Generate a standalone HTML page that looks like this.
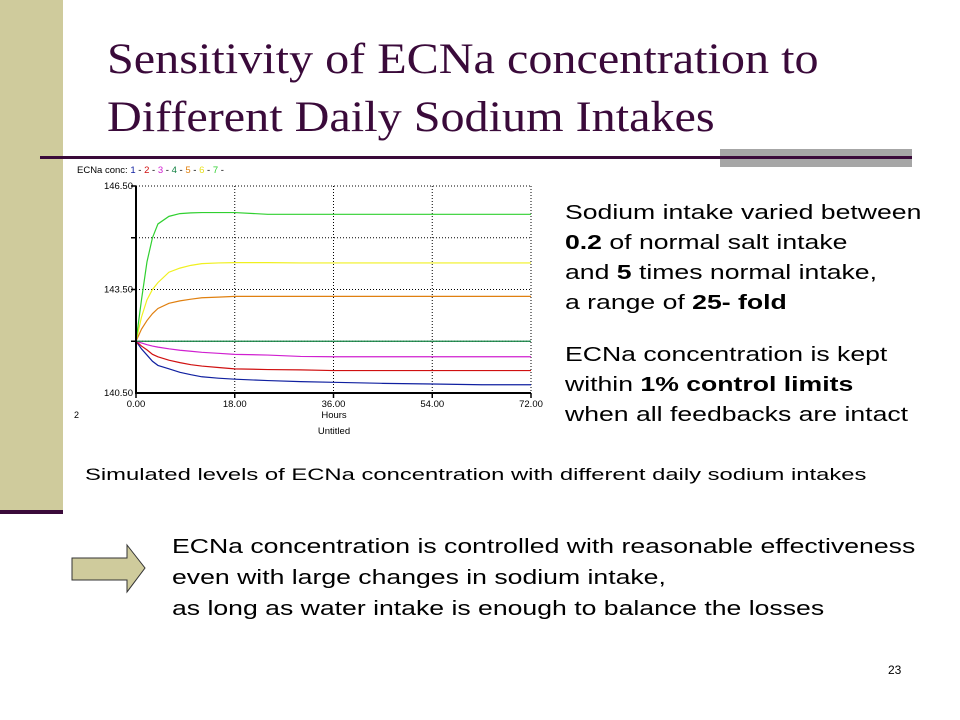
<!DOCTYPE html>
<html><head><meta charset="utf-8"><style>
body{margin:0;width:960px;height:720px;background:#fff;position:relative;overflow:hidden;font-family:"Liberation Sans",Arial,sans-serif}
.abs{position:absolute;white-space:nowrap}
.t{font-family:"Liberation Serif",serif;font-size:43px;color:#3a0a3a;left:107px;transform:scaleX(1.12);transform-origin:0 0}
.r{font-size:20px;color:#000;line-height:30px;transform:scaleX(1.33);transform-origin:0 0}
</style></head><body>
<div class="abs" style="left:0;top:0;width:63px;height:511px;background:#cfcb9c"></div>
<div class="abs" style="left:0;top:510px;width:63px;height:4px;background:#3a0a3a"></div>
<div class="abs t" style="top:35px">Sensitivity of ECNa concentration to</div>
<div class="abs t" style="top:93px">Different Daily Sodium Intakes</div>
<div class="abs" style="left:720px;top:149px;width:192px;height:18px;background:#a6a6a6"></div>
<div class="abs" style="left:40px;top:156px;width:872px;height:3px;background:#3a0a3a"></div>

<svg class="abs" style="left:0;top:0" width="960" height="720" id="chart" font-family="Liberation Sans, Arial, sans-serif">
<text x="77" y="173" font-size="9.5">ECNa conc: <tspan fill="#1020a0">1</tspan> - <tspan fill="#d01010">2</tspan> - <tspan fill="#d020d0">3</tspan> - <tspan fill="#108040">4</tspan> - <tspan fill="#e08010">5</tspan> - <tspan fill="#e8e020">6</tspan> - <tspan fill="#30d030">7</tspan> -</text>
<text x="74" y="418" font-size="9">2</text>
<text x="334" y="418" font-size="9.5" text-anchor="middle">Hours</text>
<text x="334" y="434" font-size="9.5" text-anchor="middle">Untitled</text>
<g id="g"></g>
</svg>

<div class="abs r" style="left:565px;top:198px">Sodium intake varied between<br><b>0.2</b> of normal salt intake<br>and <b>5</b> times normal intake,<br>a range of <b>25- fold</b></div>
<div class="abs r" style="left:565px;top:340px">ECNa concentration is kept<br>within <b>1% control limits</b><br>when all feedbacks are intact</div>
<div class="abs" style="left:85px;top:465px;font-size:17px;transform:scaleX(1.4);transform-origin:0 0">Simulated levels of ECNa concentration with different daily sodium intakes</div>
<svg class="abs" style="left:0;top:0" width="160" height="620"><polygon points="72,558 127,558 127,545 145,568 127,592 127,580 72,580" fill="#cfcb9c" stroke="#333" stroke-width="1"/></svg>
<div class="abs r" style="left:172px;top:532px;line-height:31px">ECNa concentration is controlled with reasonable effectiveness<br>even with large changes in sodium intake,<br>as long as water intake is enough to balance the losses</div>
<div class="abs" style="left:888px;top:663px;font-size:12px">23</div>

<script>
const hours=[0,1,2,3,4,6,8,10,12,15,18,24,30,36,45,54,63,72];
const s1=[142,141.78,141.6,141.42,141.3,141.2,141.1,141.03,140.97,140.93,140.9,140.86,140.83,140.81,140.78,140.76,140.74,140.74];
const s2=[142,141.86,141.75,141.62,141.55,141.45,141.38,141.32,141.28,141.24,141.2,141.18,141.17,141.15,141.15,141.15,141.15,141.15];
const s3=[142,141.95,141.9,141.86,141.83,141.78,141.74,141.71,141.68,141.65,141.62,141.6,141.56,141.55,141.55,141.55,141.55,141.55];
const s4=[142,142,142,142,142,142,142,142,142,142,142,142,142,142,142,142,142,142];
const s5=[142,142.35,142.6,142.8,142.95,143.1,143.17,143.22,143.26,143.28,143.3,143.3,143.3,143.3,143.3,143.3,143.3,143.3];
const s6=[142,142.7,143.2,143.5,143.7,144.0,144.12,144.2,144.25,144.27,144.28,144.28,144.27,144.27,144.27,144.27,144.27,144.27];
const s7=[142,143.2,144.3,145.0,145.4,145.62,145.7,145.72,145.73,145.73,145.73,145.68,145.68,145.68,145.68,145.68,145.68,145.68];
const series=[s1,s2,s3,s4,s5,s6,s7];
const colors=["#1020a0","#d01010","#d020d0","#108040","#e08010","#f0f020","#30d030"];
const yTicks=[140.5,143.5,146.5];
const yGrid=[145,143.5,142,146.5];
const xTicks=[0,18,36,54,72];
const X0=136,X1=531,Y0=393,Y1=186;
const xs=v=>X0+(v-0)/72*(X1-X0);
const ys=v=>Y0-(v-140.5)/6*(Y0-Y1);
const g=document.getElementById('g');const NS="http://www.w3.org/2000/svg";
function mk(t,a){const e=document.createElementNS(NS,t);for(const k in a)e.setAttribute(k,a[k]);g.appendChild(e);return e;}
yGrid.forEach(v=>{const e=mk('line',{x1:X0,x2:X1,y1:ys(v),y2:ys(v),stroke:'#000','stroke-dasharray':'1,2','stroke-width':1});


const t=mk('line',{x1:X0-5,x2:X0,y1:ys(v),y2:ys(v),stroke:'#000','stroke-width':1.5});

});
xTicks.forEach(v=>{if(v>0){const e=mk('line',{x1:xs(v),x2:xs(v),y1:Y1,y2:Y0,stroke:'#000','stroke-dasharray':'1,2','stroke-width':1});

}
const t=mk('line',{x1:xs(v),x2:xs(v),y1:Y0,y2:Y0+5,stroke:'#000','stroke-width':1.5});


const l=mk('text',{x:xs(v),y:Y0+14,'font-size':9.5,'text-anchor':'middle'});l.textContent=v.toFixed(2);

});
yTicks.forEach(v=>{const l=mk('text',{x:X0-3,y:ys(v)+3,'font-size':9.5,'text-anchor':'end'});l.textContent=v.toFixed(2);

});
series.forEach((s,i)=>{const p=mk('polyline',{points:s.map((v,j)=>xs(hours[j])+','+ys(v)).join(' '),fill:'none',stroke:colors[i],'stroke-width':1.2});

});
const ax=mk('polyline',{points:`${X0},${Y1} ${X0},${Y0} ${X1},${Y0}`,fill:'none',stroke:'#000','stroke-width':2});


</script>
</body></html>
